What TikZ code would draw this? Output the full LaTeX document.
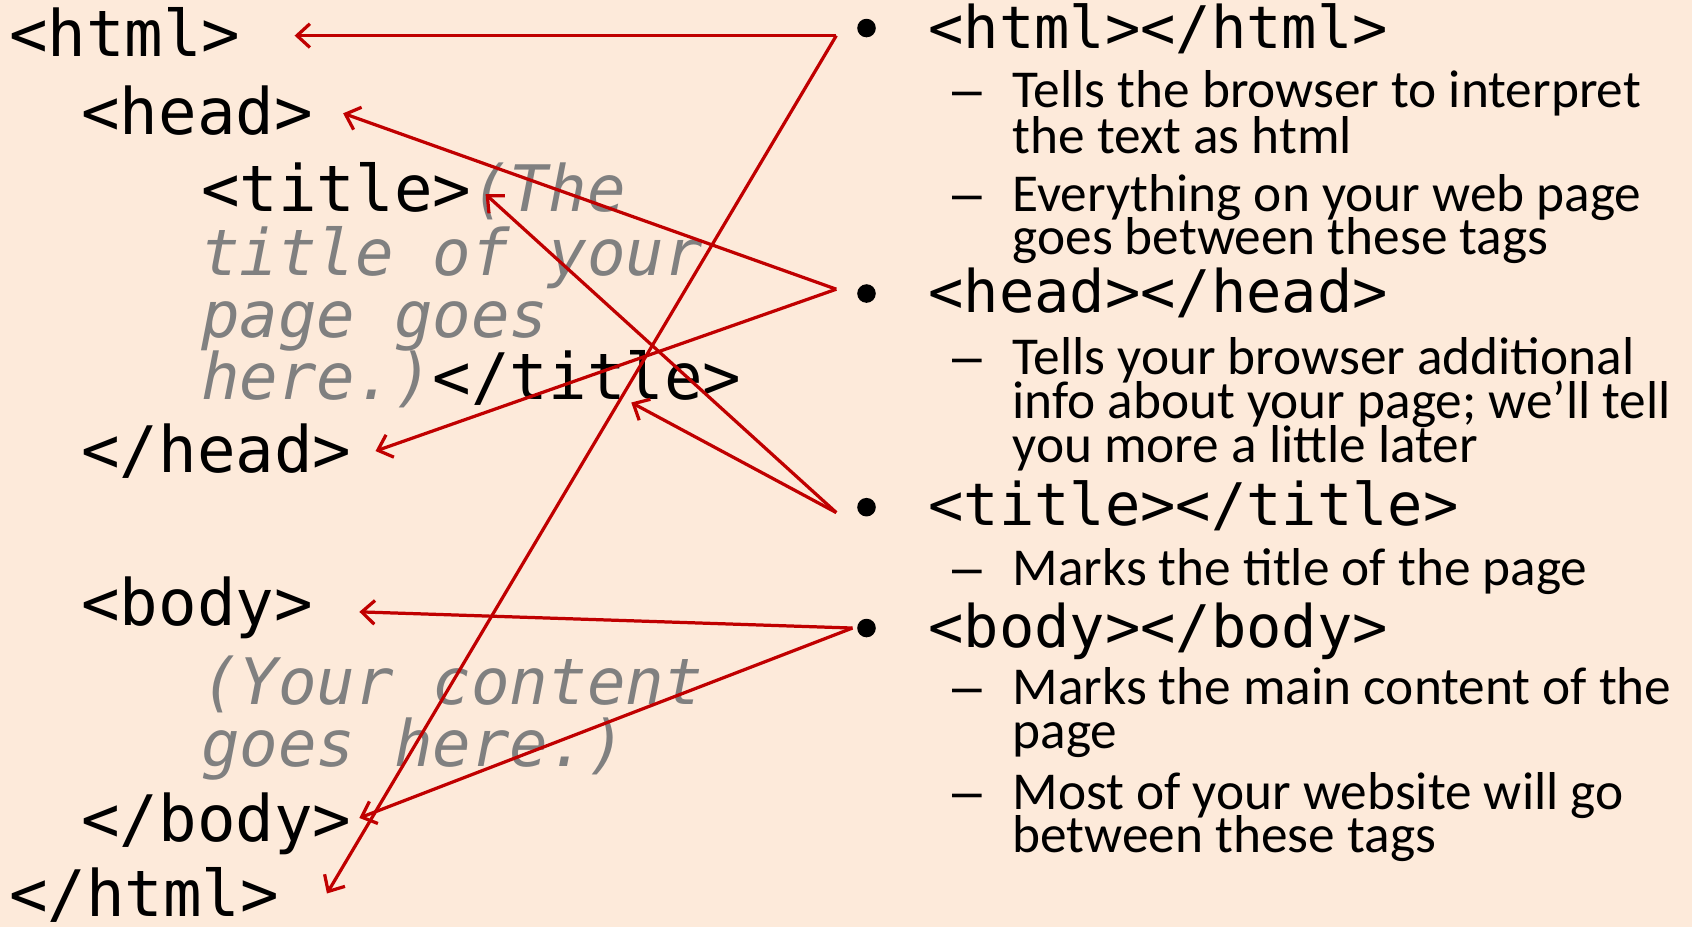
\documentclass[tikz,border=0pt]{standalone}
\usepackage{fontspec}
\setmainfont{Carlito}
\newfontfamily\codefont{DejaVu Sans Mono}
\newfontfamily\dashfont{Liberation Sans}
\usetikzlibrary{arrows.meta}
\definecolor{slidebg}{HTML}{FDEADA}
\definecolor{tagred}{HTML}{C00000}
\tikzset{>={Straight Barb[length=6pt,width=11pt]}}
\newcommand{\cmt}[1]{{\color{gray}\itshape #1}}

\begin{document}
\begin{tikzpicture}[x=0.5pt,y=-0.5pt,
  code/.style={anchor=base west, inner sep=0pt, font=\codefont\fontsize{29.7}{30}\selectfont},
  tag/.style={anchor=base west, inner sep=0pt, font=\codefont\fontsize{27.2}{28}\selectfont},
  note/.style={anchor=base west, inner sep=0pt, font=\fontsize{24.7}{25}\selectfont},
  dashmark/.style={anchor=base west, inner sep=0pt, font=\dashfont\fontsize{24.7}{25}\selectfont},
  dot/.style={circle, fill=black, inner sep=0pt, minimum size=8.6pt},
  link/.style={->, draw=tagred, line width=1.5pt}]
  % slide background
  \fill[slidebg] (0,0) rectangle (1568,859);
  \useasboundingbox (0,0) rectangle (1568,859);

  % source code on the left
  \node[code] (htmlopen)   at (8,52)    {<html>};
  \node[code] (headopen)   at (75,125)  {<head>};
  \node[code] (titleopen)  at (186,196) {<title>\cmt{(The}};
  \node[code] (titletwo)   at (186,255) {\cmt{title of your}};
  \node[code] (titlethree) at (186,313) {\cmt{page goes}};
  \node[code] (titleclose) at (186,370) {\cmt{here.)}</title>};
  \node[code] (headclose)  at (75,438)  {</head>};
  \node[code] (bodyopen)   at (75,580)  {<body>};
  \node[code] (bodyone)    at (186,653) {\cmt{(Your content}};
  \node[code] (bodytwo)    at (186,710) {\cmt{goes here.)}};
  \node[code] (bodyclose)  at (75,780)  {</body>};
  \node[code] (htmlclose)  at (8,849)   {</html>};

  % bullet list on the right
  \node[dot] (bhtml)  at (803,26)  {};
  \node[dot] (bhead)  at (803,272) {};
  \node[dot] (btitle) at (803,470) {};
  \node[dot] (bbody)  at (803,582) {};
  \node[tag] (lhtml)  at (860,45)  {<html></html>};
  \node[tag] (lhead)  at (860,290) {<head></head>};
  \node[tag] (ltitle) at (860,487) {<title></title>};
  \node[tag] (lbody)  at (860,600) {<body></body>};

  \foreach \y in {100,196,347,543,653,750}
    \node[dashmark] at (882,\y) {–};
  \node[note] (n1)  at (938,100) {Tells the browser to interpret};
  \node[note] (n1b) at (938,142) {the text as html};
  \node[note] (n2)  at (938,196) {Everything on your web page};
  \node[note] (n2b) at (938,236) {goes between these tags};
  \node[note] (n3)  at (938,347) {Tells your browser additional};
  \node[note] (n3b) at (938,388) {info about your page; we’ll tell};
  \node[note] (n3c) at (938,429) {you more a little later};
  \node[note] (n4)  at (938,543) {Marks the title of the page};
  \node[note] (n5)  at (938,653) {Marks the main content of the};
  \node[note] (n5b) at (938,694) {page};
  \node[note] (n6)  at (938,750) {Most of your website will go};
  \node[note] (n6b) at (938,790) {between these tags};

  % arrow ends
  \coordinate (shtml)  at (775,33);
  \coordinate (shead)  at (775,268);
  \coordinate (stitle) at (775,475);
  \coordinate (sbody)  at (790,582);
  \coordinate (thtmlopen)   at (273,33);
  \coordinate (thtmlclose)  at (303,828);
  \coordinate (theadopen)   at (318,105);
  \coordinate (theadclose)  at (348,418);
  \coordinate (ttitleopen)  at (450,180);
  \coordinate (ttitleclose) at (585,373);
  \coordinate (tbodyopen)   at (333,567);
  \coordinate (tbodyclose)  at (333,758);

  \draw[link] (shtml) -- (thtmlopen);
  \draw[link] (shtml) -- (thtmlclose);
  \draw[link] (shead) -- (theadopen);
  \draw[link] (shead) -- (theadclose);
  \draw[link] (stitle) -- (ttitleopen);
  \draw[link] (stitle) -- (ttitleclose);
  \draw[link] (sbody) -- (tbodyopen);
  \draw[link] (sbody) -- (tbodyclose);
\end{tikzpicture}
\end{document}
